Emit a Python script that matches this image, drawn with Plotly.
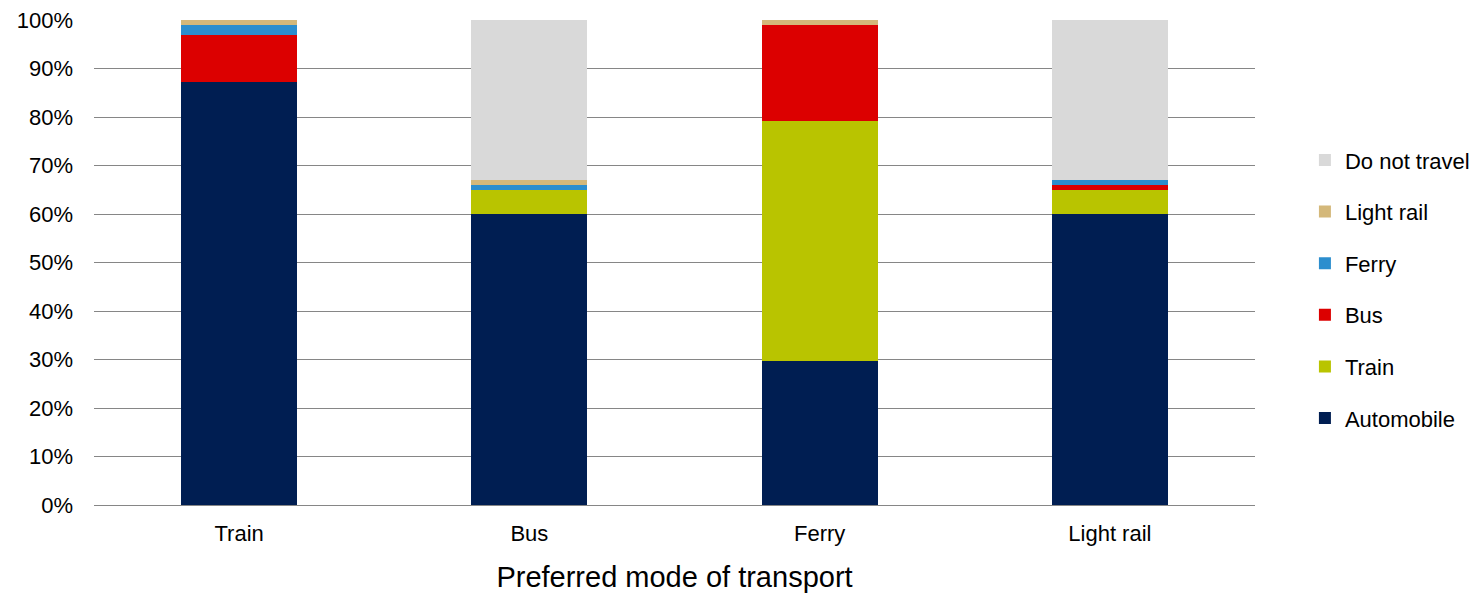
import plotly.graph_objects as go

categories = ["Train", "Bus", "Ferry", "Light rail"]
series_names = ["Automobile", "Train", "Bus", "Ferry", "Light rail", "Do not travel"]
automobile = [87.3, 60.0, 29.7, 60.0]
train = [0.0, 5.0, 49.5, 5.0]
bus = [9.7, 0.0, 19.8, 1.0]
ferry = [2.0, 1.0, 0.0, 1.0]
light_rail = [1.0, 1.0, 1.0, 0.0]
do_not_travel = [0.0, 33.0, 0.0, 33.0]
colors = ["#001E52", "#B9C400", "#DC0000", "#2C8ECE", "#D4B87A", "#D9D9D9"]
y_ticks = [0, 10, 20, 30, 40, 50, 60, 70, 80, 90, 100]
y_tick_labels = [f"{v}%" for v in y_ticks]

values = [automobile, train, bus, ferry, light_rail, do_not_travel]

fig = go.Figure()
n = len(series_names)
for i, (name, vals, col) in enumerate(zip(series_names, values, colors)):
    fig.add_trace(go.Bar(
        x=categories, y=vals, name=name, marker=dict(color=col, line=dict(width=0)),
        legendgroup=name, legendrank=(n - i) * 10,
    ))

fig.update_layout(
    barmode="stack",
    bargap=0.6,
    width=1477, height=593,
    margin=dict(l=94, r=222, t=20, b=88, autoexpand=False),
    plot_bgcolor="white", paper_bgcolor="white",
    font=dict(family="Liberation Sans, Arial, sans-serif", color="#000000", size=22),
    legend=dict(
        traceorder="grouped", tracegroupgap=20,
        x=1.043, xanchor="left", y=0.445, yanchor="middle",
        font=dict(size=22), itemwidth=30,
    ),
    xaxis=dict(
        title=dict(text="Preferred mode of transport", font=dict(size=29), standoff=22),
        showline=True, linecolor="#868686", linewidth=1, ticks="",
        tickfont=dict(size=22), ticklabelstandoff=9, automargin=False,
    ),
    yaxis=dict(
        range=[0, 100], tickvals=y_ticks, ticktext=y_tick_labels,
        showgrid=True, gridcolor="#868686", gridwidth=1,
        ticks="", ticklabelstandoff=20, automargin=False,
        zeroline=False, showline=False, tickfont=dict(size=22),
    ),
)

fig.write_html("out.html")
